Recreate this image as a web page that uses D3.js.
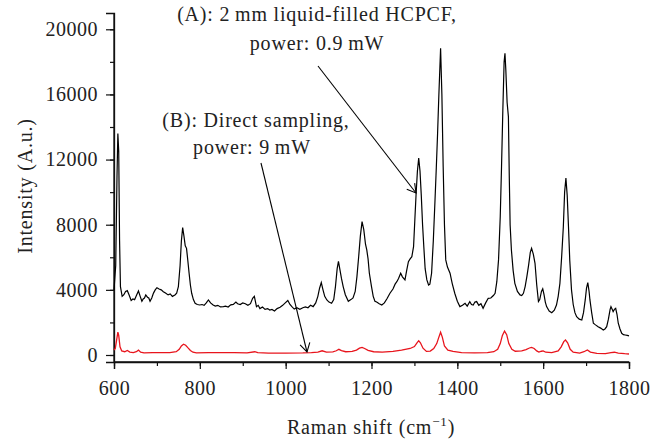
<!DOCTYPE html>
<html>
<head>
<meta charset="utf-8">
<title>Raman spectra</title>
<script src="https://d3js.org/d3.v7.min.js"></script>
<style>
body { margin: 0; padding: 0; background: white; }
svg text { font-family: "Liberation Serif", "DejaVu Serif", serif; fill: #222; }
</style>
</head>
<body>
<svg id="chart" width="666" height="440"></svg>
<script>

// (A) liquid-filled HCPCF, black curve
var shiftA = [600,604,607,609,611,613,615,619,623,627,631,635,640,644,648,653,657,661,665,668,671,674,678,681,684,688,692,696,700,705,710,715,720,726,731,736,742,746,750,754,757,760,763,766,769,772,775,778,781,785,789,794,800,805,810,815,820,825,831,836,842,848,855,860,866,872,878,884,888,894,900,906,912,918,923,927,932,936,940,946,952,958,963,968,974,980,987,993,999,1005,1010,1015,1020,1026,1033,1040,1046,1052,1058,1064,1070,1075,1079,1083,1087,1091,1096,1101,1107,1112,1116,1120,1123,1126,1130,1134,1139,1146,1152,1157,1162,1166,1170,1174,1178,1182,1186,1189,1192,1195,1200,1204,1208,1212,1218,1224,1230,1236,1243,1250,1255,1259,1263,1268,1272,1278,1282,1286,1290,1294,1298,1301,1304,1307,1310,1313,1316,1319,1322,1325,1329,1333,1336,1340,1344,1348,1351,1354,1357,1361,1364,1367,1370,1373,1377,1383,1388,1394,1400,1406,1412,1418,1423,1429,1433,1437,1441,1445,1450,1455,1460,1466,1472,1478,1484,1488,1492,1496,1500,1503,1506,1509,1511,1513,1516,1519,1521,1523,1526,1530,1534,1540,1546,1550,1554,1558,1562,1566,1570,1573,1577,1581,1585,1589,1592,1596,1599,1602,1605,1608,1614,1620,1626,1631,1635,1639,1643,1647,1650,1653,1656,1659,1662,1666,1670,1674,1678,1684,1690,1694,1698,1701,1704,1707,1709,1713,1717,1722,1728,1734,1740,1744,1748,1752,1756,1758,1761,1763,1766,1769,1772,1775,1779,1783,1787,1791,1796,1800];
var intensityA = [4000,5500,11000,13600,12500,7000,4200,3600,3700,3900,3950,3700,3350,3440,3400,3700,3930,3600,3300,3440,3500,3690,3550,3500,3300,3500,3800,4000,4130,4050,4000,3890,3800,3690,3750,3600,3690,3800,4200,5500,7000,7820,7300,6700,6550,5800,5020,4300,3790,3400,3180,3100,3070,3100,3050,3200,3380,3200,3070,3000,3050,2950,2970,3000,2950,3080,3110,3250,3150,3100,3200,3150,3050,3150,3480,3600,2970,3050,2850,2950,2800,2850,2760,2800,2700,2850,2930,3050,3200,3350,3100,2950,2820,2900,2810,2900,2950,2900,3050,2970,3200,3600,4100,4450,4000,3600,3380,3250,3175,3400,4200,5300,5750,5300,4700,4200,3700,3300,3400,3500,3900,4800,6000,7300,8190,7700,6800,6450,5900,5020,4200,3600,3300,3250,3150,3070,3200,3450,3790,4050,4350,4500,4700,5020,4800,4610,5200,5730,5900,6040,6650,8300,9930,11300,12090,11300,9800,8000,6600,5300,4610,4300,4350,5020,7000,9520,11500,13620,16000,18840,16000,11570,8000,5840,5400,5020,4400,3790,3300,2970,3050,3175,3000,3280,3100,3070,3250,3280,3050,3150,2870,3200,3480,3500,3650,3790,4500,5840,8500,11570,15000,18000,18530,17500,15500,14640,11000,8000,6450,5200,4400,3900,3690,3650,3790,4200,4810,5500,6300,6550,6200,5630,4300,3280,3400,3900,4060,3700,3250,2970,2700,2600,2750,3070,3600,4400,6000,7880,10000,10860,9800,7880,5800,4000,3100,2600,2350,2200,2150,2600,3380,4100,4440,3900,3380,2600,1950,1850,1740,1650,1540,1600,1740,2200,2800,2970,2800,2660,2800,2870,2500,1950,1600,1330,1250,1230,1200,1170];

// (B) direct sampling, red curve
var shiftB = [600,603,606,609,611,614,618,625,631,637,645,652,657,662,670,690,710,730,745,752,757,762,767,772,778,784,792,820,850,880,910,928,935,960,1000,1040,1060,1075,1085,1095,1110,1118,1124,1130,1140,1155,1165,1172,1178,1184,1192,1205,1225,1250,1270,1290,1300,1306,1310,1314,1320,1328,1337,1345,1352,1357,1361,1365,1370,1378,1390,1410,1440,1470,1485,1494,1500,1505,1510,1515,1520,1527,1535,1550,1560,1568,1573,1579,1585,1590,1596,1600,1606,1620,1635,1642,1648,1652,1657,1663,1670,1685,1695,1703,1710,1725,1745,1758,1766,1775,1790,1800];
var intensityB = [300,400,900,1400,1200,500,250,200,280,180,150,200,300,170,130,150,140,150,200,350,560,660,600,450,280,170,130,150,140,140,130,200,140,110,120,130,150,180,260,180,190,260,350,270,200,220,300,420,470,400,280,200,180,220,300,400,520,750,880,750,420,220,240,400,700,1100,1400,1100,550,300,220,150,130,150,200,350,700,1200,1470,1250,700,350,230,250,330,430,470,400,250,180,230,250,170,140,250,500,820,920,750,350,170,120,200,310,180,100,90,150,170,120,80,60];

var xTicks = [600,800,1000,1200,1400,1600,1800];
var yTicks = [0,4000,8000,12000,16000,20000];

var svg = d3.select("#chart");

var x = d3.scaleLinear().domain([600,1800]).range([114,629]);
var y = d3.scaleLinear().domain([-430,21000]).range([362,13]);

// axes
var gx = svg.append("g").attr("transform","translate(0,362)")
  .call(d3.axisBottom(x).tickValues(d3.range(600,1801,100)).tickSize(4).tickFormat(""));
gx.append("g").call(d3.axisBottom(x).tickValues(xTicks).tickSize(7).tickPadding(12).tickFormat(d3.format("d")))
  .selectAll("text").style("font-size","20px").style("letter-spacing","0.5px");
var gy = svg.append("g").attr("transform","translate(114,0)")
  .call(d3.axisLeft(y).tickValues(d3.range(0,20001,2000)).tickSize(4).tickFormat(""));
gy.append("g").call(d3.axisLeft(y).tickValues(yTicks).tickSize(8).tickPadding(8).tickFormat(d3.format("d")))
  .selectAll("text").style("font-size","20px").style("letter-spacing","0.5px");
svg.selectAll(".domain").attr("stroke","#111").attr("stroke-width",1.3);
svg.selectAll(".tick line").attr("stroke","#111").attr("stroke-width",1.2);
gx.select(".domain").attr("d","M114,0H629");
gy.select(".domain").attr("d","M0,13V362");
gx.select("g").select(".domain").remove();
gy.select("g").select(".domain").remove();

// spectra
var line = d3.line().x(function(d){ return x(d[0]); }).y(function(d){ return y(d[1]); });
svg.append("path").datum(d3.zip(shiftB,intensityB))
  .attr("d",line).attr("fill","none").attr("stroke","#e8141c").attr("stroke-width",1.3);
svg.append("path").datum(d3.zip(shiftA,intensityA))
  .attr("d",line).attr("fill","none").attr("stroke","#000").attr("stroke-width",1.2);

// axis titles
var xt = svg.append("text").attr("x",371).attr("y",434).attr("text-anchor","middle")
  .style("font-size","20px").style("letter-spacing","0.8px");
xt.append("tspan").text("Raman shift (cm");
xt.append("tspan").attr("dy",-8).style("font-size","13px").text("\u22121");
xt.append("tspan").attr("dy",8).text(")");
svg.append("text").attr("transform","translate(32,186) rotate(-90)")
  .attr("text-anchor","middle").style("font-size","20px").style("letter-spacing","0.8px").text("Intensity (A.u.)");

// annotations
var notes = [
  {t:"(A): 2\u2009mm liquid-filled HCPCF,", x:317, y:21},
  {t:"power: 0.9\u2009mW", x:317, y:50},
  {t:"(B): Direct sampling,", x:256, y:127},
  {t:"power: 9\u2009mW", x:252, y:154}
];
svg.selectAll(".note").data(notes).enter().append("text")
  .attr("x",function(d){ return d.x; }).attr("y",function(d){ return d.y; })
  .attr("text-anchor","middle").style("font-size","20px").style("letter-spacing","0.8px")
  .text(function(d){ return d.t; });

function arrow(x1,y1,x2,y2){
  var a = Math.atan2(y2-y1,x2-x1), L = 10, s = Math.PI/6;
  svg.append("line").attr("x1",x1).attr("y1",y1).attr("x2",x2).attr("y2",y2)
    .attr("stroke","#000").attr("stroke-width",1.1);
  svg.append("path")
    .attr("d","M"+(x2-L*Math.cos(a-s))+","+(y2-L*Math.sin(a-s))+"L"+x2+","+y2+"L"+(x2-L*Math.cos(a+s))+","+(y2-L*Math.sin(a+s)))
    .attr("fill","none").attr("stroke","#000").attr("stroke-width",1.1);
}
arrow(318,66,416,193);
arrow(261,163,307,352);

</script>
</body>
</html>
